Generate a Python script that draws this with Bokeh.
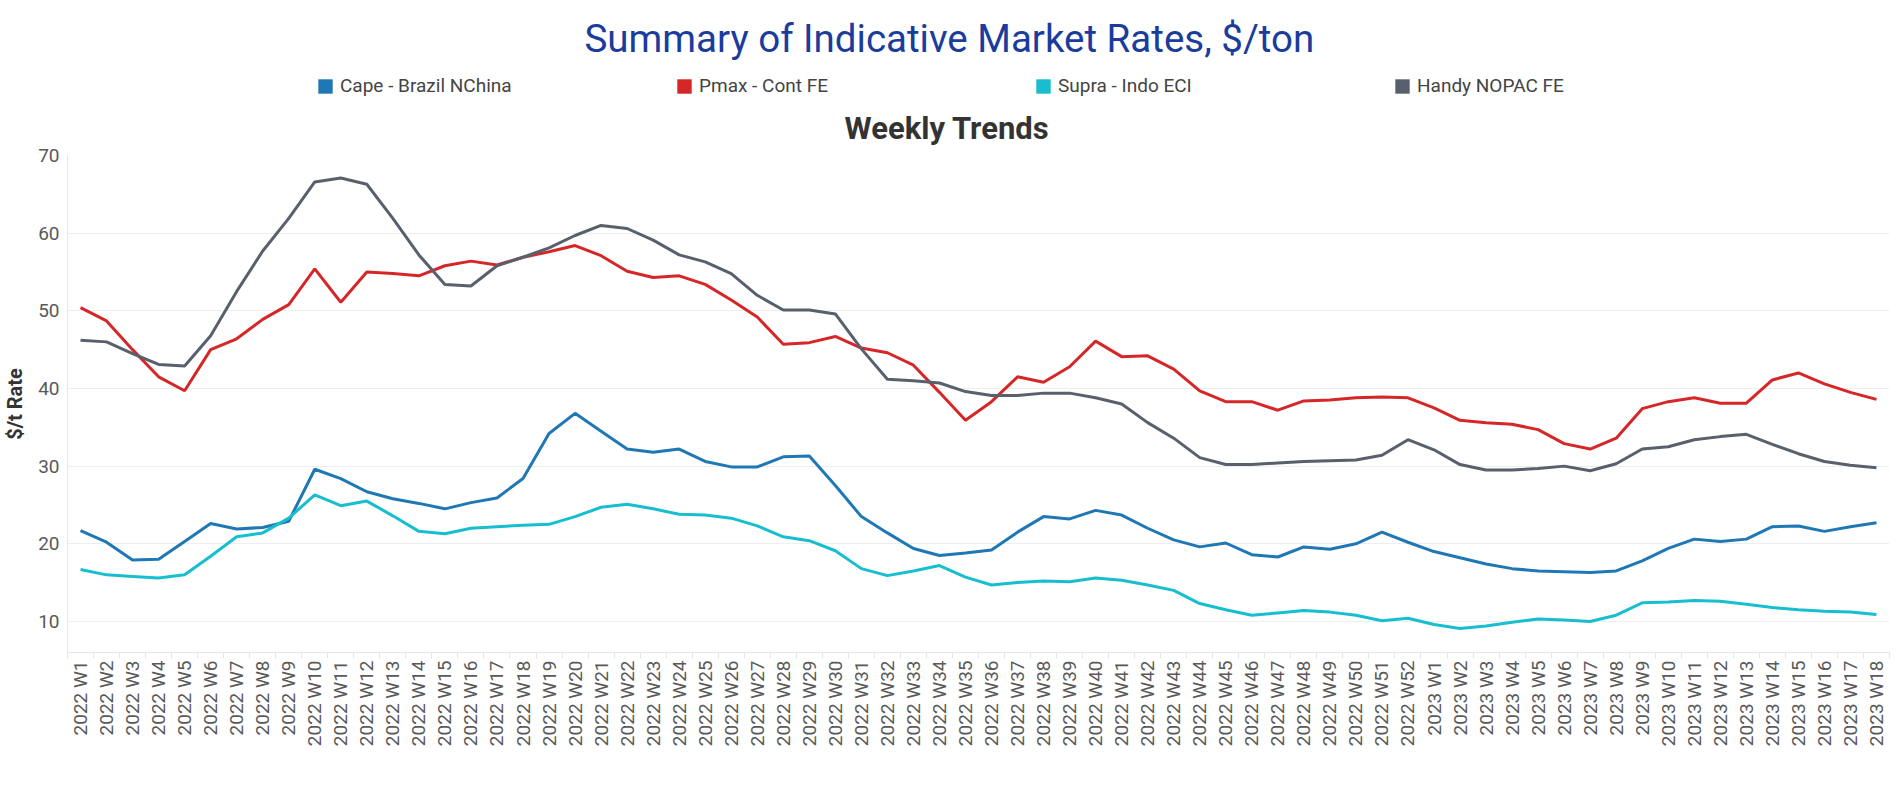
import math
from bokeh.plotting import figure
from bokeh.layouts import column
from bokeh.models import Range1d, FixedTicker, Legend, LegendItem, Title, Label
from bokeh.embed import file_html
from bokeh.resources import INLINE

weeks = [f"2022 W{w}" for w in range(1, 53)] + [f"2023 W{w}" for w in range(1, 19)]

cape = [21.7, 20.2, 17.9, 18.0, 20.3, 22.6, 21.9, 22.1, 22.9, 29.6,
        28.4, 26.7, 25.8, 25.2, 24.5, 25.3, 25.9, 28.4, 34.2, 36.8,
        34.5, 32.2, 31.8, 32.2, 30.6, 29.9, 29.9, 31.2, 31.3, 27.5,
        23.5, 21.4, 19.4, 18.5, 18.8, 19.2, 21.5, 23.5, 23.2, 24.3,
        23.7, 22.0, 20.5, 19.6, 20.1, 18.6, 18.3, 19.6, 19.3, 20.0,
        21.5, 20.2,
        19.0, 18.2, 17.4, 16.8, 16.5, 16.4, 16.3, 16.5, 17.8, 19.4,
        20.6, 20.3, 20.6, 22.2, 22.3, 21.6, 22.2, 22.7]

pmax = [50.4, 48.7, 45.0, 41.5, 39.7, 45.0, 46.4, 48.9, 50.8, 55.4,
        51.1, 55.0, 54.8, 54.5, 55.8, 56.4, 55.9, 56.9, 57.6, 58.4,
        57.1, 55.1, 54.3, 54.5, 53.4, 51.4, 49.2, 45.7, 45.9, 46.7,
        45.2, 44.6, 43.0, 39.5, 35.9, 38.3, 41.5, 40.8, 42.8, 46.1,
        44.1, 44.2, 42.5, 39.7, 38.3, 38.3, 37.2, 38.4, 38.5, 38.8,
        38.9, 38.8,
        37.5, 35.9, 35.6, 35.4, 34.7, 32.9, 32.2, 33.6, 37.4, 38.3,
        38.8, 38.1, 38.1, 41.1, 42.0, 40.6, 39.5, 38.6]

supra = [16.7, 16.0, 15.8, 15.6, 16.0, 18.4, 20.9, 21.4, 23.3, 26.3,
         24.9, 25.5, 23.6, 21.6, 21.3, 22.0, 22.2, 22.4, 22.5, 23.5,
         24.7, 25.1, 24.5, 23.8, 23.7, 23.3, 22.3, 20.9, 20.4, 19.1,
         16.8, 15.9, 16.5, 17.2, 15.7, 14.7, 15.0, 15.2, 15.1, 15.6,
         15.3, 14.7, 14.0, 12.3, 11.5, 10.8, 11.1, 11.4, 11.2, 10.8,
         10.1, 10.4,
         9.6, 9.1, 9.4, 9.9, 10.3, 10.2, 10.0, 10.8, 12.4, 12.5,
         12.7, 12.6, 12.2, 11.8, 11.5, 11.3, 11.2, 10.9]

handy = [46.2, 46.0, 44.5, 43.1, 42.9, 46.8, 52.5, 57.7, 61.9, 66.6,
         67.1, 66.3, 61.9, 57.2, 53.4, 53.2, 55.8, 56.9, 58.1, 59.7,
         61.0, 60.6, 59.1, 57.2, 56.3, 54.8, 52.0, 50.1, 50.1, 49.6,
         45.1, 41.2, 41.0, 40.7, 39.6, 39.1, 39.1, 39.4, 39.4, 38.8,
         38.0, 35.6, 33.6, 31.1, 30.2, 30.2, 30.4, 30.6, 30.7, 30.8,
         31.4, 33.4,
         32.1, 30.2, 29.5, 29.5, 29.7, 30.0, 29.4, 30.3, 32.2, 32.5,
         33.4, 33.8, 34.1, 32.8, 31.6, 30.6, 30.1, 29.8]

series_names = ["Cape - Brazil NChina", "Pmax - Cont FE", "Supra - Indo ECI", "Handy NOPAC FE"]
series_values = [cape, pmax, supra, handy]
series_colors = ["#1f77b4", "#d62728", "#17becf", "#57606c"]
y_ticks = [10, 20, 30, 40, 50, 60, 70]

x = list(range(len(weeks)))

# ---------- header: main title + legend ----------
head = figure(width=1884, height=98, x_range=Range1d(0, 1), y_range=Range1d(0, 1),
              x_axis_location=None, y_axis_location=None,
              output_backend="svg", toolbar_location=None, title=None,
              min_border_left=0, min_border_right=0, min_border_top=0, min_border_bottom=0)
head.grid.visible = False
head.outline_line_color = None

items = []
for name, col in zip(series_names, series_colors):
    # zero-area swatch renderer, only used to draw the legend square
    r = head.quad(left=[0], right=[0], top=[0], bottom=[0], fill_color=col,
                  line_color=None)
    items.append(LegendItem(label=name, renderers=[r]))

legend = Legend(items=items, orientation="horizontal", location=(249, 1),
                glyph_width=18, glyph_height=18, label_standoff=6,
                label_width=327, spacing=8, padding=0, margin=0,
                border_line_color=None, background_fill_alpha=0,
                label_text_font="Roboto", label_text_font_size="19px",
                label_text_color="#444444")
head.add_layout(legend, "center")

main = Label(x=517, y=60, x_units="screen", y_units="screen",
             text="Summary of Indicative Market Rates, $/ton",
             text_align="left", text_baseline="middle", text_font="Roboto",
             text_font_size="38.5px", text_color="#1a3c9c")
head.add_layout(main)

# ---------- main chart ----------
p = figure(frame_width=1822, frame_height=497, x_range=Range1d(-0.5, len(weeks) - 0.5),
           y_range=Range1d(6, 70), output_backend="svg", toolbar_location=None,
           title=None, min_border_left=60, min_border_right=2,
           min_border_top=0, min_border_bottom=0)
p.outline_line_color = None
p.background_fill_color = "white"

for name, vals, col in zip(series_names, series_values, series_colors):
    p.line(x, vals, line_color=col, line_width=3)

p.xaxis.ticker = FixedTicker(ticks=x, minor_ticks=[i - 0.5 for i in range(len(weeks) + 1)])
p.xaxis.major_label_overrides = {i: w for i, w in enumerate(weeks)}
p.xaxis.major_label_orientation = math.pi / 2
p.xaxis.major_tick_line_color = None
p.xaxis.major_tick_out = 0
p.xaxis.minor_tick_in = 0
p.xaxis.minor_tick_out = 6
p.xaxis.minor_tick_line_color = "#e6e6e6"
p.xaxis.axis_line_color = "#e6e6e6"
p.xaxis.major_label_standoff = 2
p.xaxis.major_label_text_font = "Roboto"
p.xaxis.major_label_text_font_size = "19px"
p.xaxis.major_label_text_color = "#595959"

p.yaxis.ticker = FixedTicker(ticks=y_ticks)
p.yaxis.major_tick_line_color = None
p.yaxis.minor_tick_line_color = None
p.yaxis.major_tick_out = 0
p.yaxis.axis_line_color = "#e6e6e6"
p.yaxis.major_label_standoff = 8
p.yaxis.major_label_text_font = "Roboto"
p.yaxis.major_label_text_font_size = "19px"
p.yaxis.major_label_text_color = "#595959"
p.yaxis.axis_label = "$/t Rate"
p.yaxis.axis_label_text_font = "Roboto"
p.yaxis.axis_label_text_font_size = "20px"
p.yaxis.axis_label_text_font_style = "bold"
p.yaxis.axis_label_text_color = "#333333"
p.yaxis.axis_label_standoff = 8

p.xgrid.grid_line_color = None
p.ygrid.grid_line_color = "#eeeeee"
p.ygrid.grid_line_width = 1

sub = Title(text="Weekly Trends", align="left", offset=777, text_font="Roboto",
            text_font_size="31px", text_font_style="bold", text_color="#333333",
            standoff=18)
p.add_layout(sub, "above")

layout = column(head, p, spacing=0)
open("out.html", "w").write(file_html(layout, INLINE))
